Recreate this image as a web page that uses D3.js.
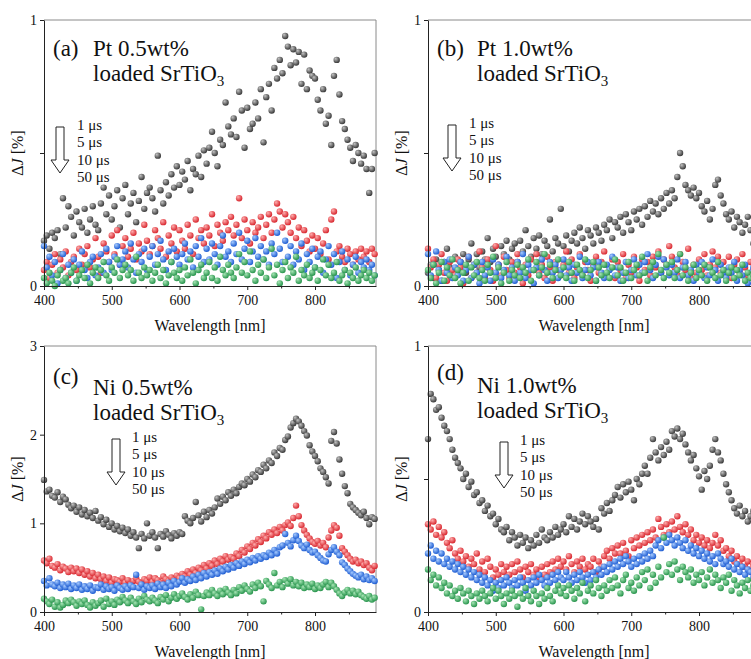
<!DOCTYPE html>
<html>
<head>
<meta charset="utf-8">
<script src="https://cdn.jsdelivr.net/npm/d3@7"></script>
<style>
  body { margin: 0; background: #fff; }
  svg, svg text { font-family: "Liberation Serif", "Times New Roman", "DejaVu Serif", serif; }
</style>
</head>
<body>
<div id="chart"></div>
<script>
// sampling grid [nm]
const wavelengths = [
  400,404,408,412,416,420,424,428,432,436,
  440,444,448,452,456,460,464,468,472,476,
  480,484,488,492,496,500,504,508,512,516,
  520,524,528,532,536,540,544,548,552,556,
  560,564,568,572,576,580,584,588,592,596,
  600,604,608,612,616,620,624,628,632,636,
  640,644,648,652,656,660,664,668,672,676,
  680,684,688,692,696,700,704,708,712,716,
  720,724,728,732,736,740,744,748,752,756,
  760,764,768,772,776,780,784,788,792,796,
  800,804,808,812,816,820,824,828,832,836,
  840,844,848,852,856,860,864,868,872,876,
  880,884,888];

const delays = ["1 μs", "5 μs", "10 μs", "50 μs"];

// (a) Pt 0.5wt%  ΔJ [%]
const ptLow1 = [
  0.17,0.19,0.14,0.20,0.18,0.21,0.12,0.33,0.22,0.30,
  0.26,0.19,0.28,0.24,0.22,0.29,0.20,0.25,0.30,0.23,
  0.21,0.31,0.37,0.27,0.34,0.25,0.30,0.36,0.22,0.33,
  0.38,0.27,0.31,0.35,0.24,0.32,0.41,0.29,0.35,0.37,
  0.33,0.28,0.49,0.36,0.31,0.39,0.34,0.42,0.37,0.45,
  0.38,0.43,0.40,0.47,0.36,0.44,0.42,0.49,0.41,0.51,
  0.46,0.52,0.58,0.50,0.45,0.55,0.53,0.69,0.60,0.57,
  0.63,0.56,0.73,0.66,0.52,0.67,0.59,0.61,0.69,0.63,
  0.74,0.54,0.71,0.76,0.66,0.82,0.78,0.85,0.80,0.94,
  0.90,0.83,0.89,0.84,0.88,0.76,0.87,0.74,0.81,0.79,
  0.78,0.70,0.66,0.74,0.61,0.64,0.53,0.79,0.85,0.72,
  0.62,0.59,0.55,0.52,0.47,0.53,0.50,0.46,0.49,0.44,
  0.35,0.44,0.50];
const ptLow5 = [
  0.06,0.09,0.03,0.08,0.12,0.05,0.10,0.07,0.13,0.04,
  0.09,0.11,0.06,0.14,0.08,0.12,0.15,0.07,0.10,0.18,
  0.11,0.05,0.16,0.13,0.09,0.19,0.12,0.21,0.08,0.15,
  0.18,0.11,0.14,0.20,0.10,0.16,0.13,0.23,0.17,0.12,
  0.15,0.21,0.18,0.14,0.24,0.11,0.19,0.16,0.22,0.13,
  0.21,0.17,0.14,0.23,0.19,0.12,0.25,0.18,0.21,0.16,
  0.22,0.19,0.27,0.15,0.23,0.20,0.17,0.24,0.21,0.26,
  0.19,0.23,0.33,0.18,0.25,0.21,0.16,0.24,0.20,0.22,
  0.26,0.18,0.23,0.27,0.20,0.25,0.31,0.28,0.22,0.27,
  0.24,0.20,0.26,0.18,0.22,0.15,0.21,0.17,0.13,0.19,
  0.14,0.18,0.12,0.16,0.21,0.10,0.25,0.28,0.13,0.15,
  0.11,0.09,0.14,0.12,0.08,0.13,0.10,0.14,0.11,0.13,
  0.09,0.14,0.12];
const ptLow10 = [
  0.15,0.07,0.11,0.04,0.09,0.01,0.06,0.12,0.03,0.08,
  0.05,0.10,0.02,0.08,0.13,0.06,0.03,0.09,0.11,0.04,
  0.07,0.12,0.05,0.14,0.09,0.06,0.11,0.15,0.08,0.10,
  0.13,0.07,0.16,0.10,0.05,0.12,0.09,0.14,0.06,0.11,
  0.15,0.08,0.12,0.17,0.10,0.06,0.13,0.09,0.14,0.11,
  0.08,0.12,0.16,0.10,0.13,0.07,0.15,0.11,0.18,0.09,
  0.14,0.10,0.16,0.12,0.08,0.15,0.19,0.11,0.13,0.09,
  0.16,0.12,0.20,0.10,0.14,0.17,0.09,0.13,0.18,0.11,
  0.15,0.10,0.13,0.08,0.16,0.12,0.20,0.14,0.09,0.17,
  0.11,0.15,0.08,0.13,0.10,0.16,0.06,0.12,0.09,0.14,
  0.07,0.11,0.13,0.05,0.10,0.15,0.08,0.12,0.03,0.09,
  0.13,0.06,0.10,0.04,0.08,0.11,0.05,0.09,0.07,0.10,
  0.06,0.08,0.04];
const ptLow50 = [
  0.03,0.01,0.05,0.02,0.00,0.04,0.06,0.02,0.03,0.01,
  0.05,0.07,0.02,0.04,0.06,0.03,0.08,0.01,0.05,0.07,
  0.03,0.06,0.09,0.04,0.02,0.07,0.05,0.10,0.03,0.06,
  0.08,0.04,0.06,0.02,0.11,0.05,0.03,0.07,0.04,0.06,
  0.02,0.05,0.08,0.03,0.06,0.01,0.04,0.09,0.05,0.03,
  0.06,0.02,0.07,0.04,0.10,0.05,0.01,0.06,0.08,0.03,
  0.05,0.09,0.03,0.07,0.02,0.11,0.06,0.04,0.08,0.05,
  0.03,0.07,0.12,0.05,0.09,0.04,0.13,0.06,0.02,0.08,
  0.05,0.10,0.03,0.07,0.14,0.04,0.08,0.01,0.06,0.09,
  0.03,0.07,0.05,0.11,0.02,0.06,0.04,0.08,0.03,0.05,
  0.07,0.02,0.06,0.10,0.04,0.08,0.03,0.05,0.09,0.02,
  0.04,0.06,0.01,0.05,0.03,0.07,0.02,0.04,0.06,0.03,
  0.05,0.02,0.04];

// (b) Pt 1.0wt%
const ptHigh1 = [
  0.05,0.08,0.03,0.10,0.06,0.02,0.09,0.14,0.07,0.04,
  0.11,0.06,0.09,0.12,0.05,0.10,0.16,0.08,0.12,0.07,
  0.13,0.10,0.18,0.09,0.14,0.11,0.08,0.15,0.12,0.17,
  0.10,0.14,0.16,0.09,0.17,0.13,0.21,0.15,0.11,0.18,
  0.14,0.19,0.12,0.17,0.15,0.25,0.13,0.18,0.16,0.29,
  0.15,0.19,0.13,0.17,0.20,0.16,0.22,0.18,0.14,0.21,
  0.19,0.16,0.22,0.20,0.17,0.23,0.21,0.25,0.18,0.24,
  0.22,0.26,0.20,0.27,0.24,0.21,0.28,0.25,0.29,0.23,
  0.30,0.26,0.32,0.28,0.31,0.27,0.33,0.29,0.35,0.31,
  0.36,0.33,0.41,0.50,0.45,0.38,0.36,0.34,0.37,0.33,
  0.35,0.30,0.28,0.32,0.25,0.29,0.38,0.40,0.34,0.31,
  0.27,0.25,0.28,0.22,0.26,0.24,0.20,0.23,0.26,0.21,
  0.16,0.22,0.18];
const ptHigh5 = [
  0.14,0.07,0.10,0.03,0.08,0.12,0.05,0.02,0.09,0.06,
  0.04,0.10,0.07,0.01,0.06,0.11,0.03,0.08,0.05,0.13,
  0.07,0.03,0.10,0.06,0.02,0.15,0.08,0.04,0.11,0.06,
  0.03,0.09,0.05,0.12,0.07,0.01,0.08,0.04,0.10,0.06,
  0.12,0.05,0.08,0.03,0.11,0.07,0.02,0.09,0.06,0.04,
  0.08,0.13,0.05,0.10,0.03,0.07,0.12,0.04,0.09,0.06,
  0.02,0.08,0.11,0.05,0.09,0.13,0.04,0.07,0.10,0.03,
  0.09,0.06,0.12,0.03,0.08,0.05,0.11,0.07,0.02,0.10,
  0.06,0.09,0.04,0.11,0.07,0.13,0.05,0.10,0.08,0.15,
  0.11,0.07,0.04,0.12,0.09,0.06,0.14,0.03,0.08,0.05,
  0.10,0.06,0.12,0.04,0.08,0.13,0.07,0.11,0.05,0.09,
  0.06,0.11,0.03,0.08,0.10,0.05,0.12,0.07,0.04,0.09,
  0.06,0.10,0.05];
const ptHigh10 = [
  0.12,0.04,0.08,0.13,0.06,0.02,0.09,0.05,0.10,0.03,
  0.07,0.04,0.09,0.02,0.06,0.11,0.03,0.08,0.05,0.01,
  0.09,0.04,0.07,0.02,0.10,0.05,0.08,0.03,0.06,0.11,
  0.04,0.07,0.02,0.09,0.05,0.12,0.03,0.08,0.06,0.01,
  0.07,0.04,0.10,0.06,0.02,0.09,0.05,0.08,0.03,0.06,
  0.10,0.04,0.07,0.02,0.08,0.05,0.11,0.03,0.06,0.09,
  0.04,0.07,0.02,0.09,0.05,0.03,0.08,0.06,0.11,0.04,
  0.07,0.02,0.05,0.09,0.03,0.06,0.10,0.04,0.08,0.05,
  0.09,0.12,0.06,0.03,0.08,0.11,0.05,0.10,0.07,0.04,
  0.08,0.05,0.10,0.03,0.07,0.09,0.04,0.06,0.02,0.08,
  0.05,0.09,0.03,0.07,0.04,0.10,0.06,0.02,0.08,0.05,
  0.03,0.07,0.05,0.09,0.02,0.06,0.04,0.08,0.01,0.05,
  0.07,0.03,0.06];
const ptHigh50 = [
  0.06,0.03,0.08,0.01,0.05,0.09,0.02,0.07,0.04,0.10,
  0.03,0.06,0.01,0.05,0.08,0.02,0.07,0.04,0.09,0.03,
  0.06,0.02,0.08,0.05,0.11,0.03,0.07,0.01,0.05,0.09,
  0.02,0.06,0.04,0.08,0.03,0.07,0.05,0.10,0.02,0.06,
  0.09,0.04,0.07,0.12,0.05,0.08,0.03,0.06,0.10,0.04,
  0.07,0.03,0.09,0.05,0.02,0.08,0.06,0.04,0.10,0.03,
  0.06,0.09,0.02,0.07,0.04,0.08,0.05,0.03,0.07,0.10,
  0.04,0.07,0.02,0.05,0.09,0.03,0.06,0.08,0.04,0.11,
  0.05,0.02,0.07,0.09,0.04,0.12,0.06,0.03,0.08,0.05,
  0.09,0.03,0.06,0.12,0.04,0.07,0.02,0.05,0.08,0.03,
  0.06,0.04,0.08,0.02,0.07,0.05,0.03,0.09,0.04,0.06,
  0.02,0.05,0.07,0.03,0.06,0.04,0.08,0.02,0.05,0.03,
  0.04,0.06,0.02];

// (c) Ni 0.5wt%
const niLow1 = [
  1.49,1.36,1.38,1.31,1.29,1.35,1.24,1.30,1.27,1.21,
  1.17,1.20,1.13,1.18,1.10,1.15,1.08,1.12,1.06,1.14,
  1.03,1.07,0.99,1.04,0.96,1.00,0.93,0.97,0.91,0.95,
  0.89,0.93,0.86,0.90,0.84,0.72,0.88,0.83,1.00,0.86,
  0.90,0.84,0.72,0.88,0.85,0.91,0.87,0.83,0.89,0.86,
  0.90,0.88,1.08,1.03,1.00,1.06,1.24,1.09,1.02,1.13,
  1.07,1.15,1.11,1.18,1.28,1.22,1.30,1.26,1.35,1.31,
  1.38,1.34,1.41,1.45,1.43,1.50,1.47,1.55,1.52,1.60,
  1.58,1.66,1.62,1.71,1.68,1.80,1.76,1.85,1.83,1.94,
  1.98,2.08,2.13,2.18,2.15,2.10,2.04,1.99,1.88,1.81,
  1.76,1.70,1.62,1.58,1.52,1.45,1.93,2.03,1.90,1.72,
  1.56,1.42,1.34,1.22,1.18,1.15,1.12,1.09,1.13,1.06,
  0.99,1.07,1.05];
const niLow5 = [
  0.58,0.55,0.60,0.52,0.50,0.54,0.47,0.51,0.49,0.45,
  0.50,0.46,0.49,0.44,0.48,0.42,0.46,0.40,0.44,0.38,
  0.42,0.37,0.40,0.35,0.39,0.33,0.37,0.36,0.34,0.38,
  0.33,0.36,0.31,0.35,0.38,0.34,0.32,0.37,0.35,0.39,
  0.34,0.38,0.36,0.33,0.40,0.37,0.35,0.39,0.36,0.41,
  0.38,0.43,0.40,0.46,0.42,0.48,0.44,0.50,0.47,0.53,
  0.49,0.55,0.52,0.58,0.54,0.60,0.57,0.63,0.59,0.62,
  0.60,0.66,0.63,0.70,0.67,0.74,0.71,0.78,0.75,0.82,
  0.79,0.86,0.83,0.90,0.87,0.93,0.89,0.96,0.92,0.98,
  1.01,0.97,1.06,1.20,1.08,0.98,0.92,0.87,0.83,0.79,
  0.77,0.80,0.75,0.78,0.73,0.84,0.92,0.98,0.95,0.86,
  0.72,0.68,0.64,0.60,0.57,0.59,0.55,0.57,0.53,0.55,
  0.50,0.47,0.52];
const niLow10 = [
  0.35,0.30,0.38,0.31,0.29,0.33,0.27,0.31,0.28,0.32,
  0.26,0.30,0.27,0.31,0.25,0.29,0.26,0.30,0.24,0.28,
  0.27,0.31,0.25,0.29,0.26,0.28,0.24,0.30,0.27,0.25,
  0.29,0.26,0.30,0.28,0.42,0.27,0.31,0.25,0.29,0.27,
  0.30,0.26,0.32,0.28,0.31,0.27,0.33,0.29,0.35,0.31,
  0.34,0.38,0.33,0.37,0.35,0.40,0.36,0.42,0.38,0.44,
  0.40,0.45,0.42,0.47,0.43,0.49,0.46,0.51,0.48,0.53,
  0.50,0.55,0.52,0.57,0.54,0.59,0.56,0.61,0.58,0.63,
  0.60,0.64,0.62,0.67,0.64,0.70,0.66,0.73,0.75,0.88,
  0.78,0.74,0.81,0.86,0.80,0.75,0.72,0.76,0.70,0.67,
  0.68,0.64,0.61,0.58,0.57,0.65,0.70,0.73,0.68,0.64,
  0.56,0.53,0.49,0.46,0.43,0.41,0.39,0.42,0.37,0.40,
  0.36,0.38,0.35];
const niLow50 = [
  0.15,0.12,0.09,0.14,0.06,0.11,0.05,0.08,0.13,0.10,
  0.14,0.11,0.07,0.12,0.09,0.13,0.08,0.05,0.11,0.07,
  0.10,0.13,0.06,0.15,0.09,0.12,0.08,0.14,0.11,0.17,
  0.13,0.10,0.16,0.12,0.09,0.15,0.11,0.18,0.14,0.12,
  0.16,0.13,0.10,0.17,0.14,0.19,0.12,0.16,0.20,0.15,
  0.18,0.21,0.17,0.14,0.20,0.16,0.23,0.19,0.03,0.18,
  0.22,0.19,0.25,0.21,0.18,0.24,0.20,0.26,0.22,0.19,
  0.25,0.21,0.28,0.24,0.30,0.26,0.23,0.31,0.27,0.33,
  0.29,0.12,0.35,0.31,0.27,0.44,0.30,0.34,0.28,0.36,
  0.32,0.37,0.30,0.34,0.29,0.33,0.27,0.31,0.28,0.32,
  0.26,0.30,0.27,0.31,0.34,0.28,0.33,0.29,0.25,0.21,
  0.18,0.22,0.25,0.21,0.24,0.20,0.23,0.19,0.17,0.15,
  0.18,0.14,0.16];

// (d) Ni 1.0wt%
const niHigh1 = [
  0.65,0.82,0.80,0.76,0.77,0.73,0.70,0.68,0.65,0.61,
  0.58,0.56,0.54,0.50,0.52,0.47,0.49,0.44,0.45,0.41,
  0.42,0.38,0.40,0.36,0.37,0.33,0.35,0.31,0.30,0.32,
  0.27,0.30,0.28,0.25,0.29,0.26,0.28,0.24,0.27,0.25,
  0.29,0.26,0.31,0.28,0.27,0.30,0.28,0.32,0.29,0.31,
  0.33,0.30,0.36,0.32,0.35,0.31,0.34,0.37,0.33,0.36,
  0.34,0.32,0.35,0.31,0.39,0.37,0.41,0.38,0.42,0.44,
  0.47,0.43,0.48,0.45,0.49,0.46,0.42,0.50,0.48,0.52,
  0.55,0.52,0.58,0.65,0.60,0.57,0.62,0.59,0.64,0.61,
  0.68,0.66,0.69,0.65,0.67,0.63,0.60,0.57,0.59,0.54,
  0.51,0.46,0.53,0.50,0.55,0.61,0.65,0.60,0.57,0.52,
  0.48,0.45,0.42,0.39,0.37,0.40,0.36,0.38,0.34,0.36,
  0.38,0.35,0.37];
const niHigh5 = [
  0.33,0.31,0.34,0.29,0.32,0.28,0.30,0.26,0.24,0.27,
  0.22,0.20,0.23,0.19,0.21,0.17,0.20,0.18,0.22,0.16,
  0.19,0.15,0.20,0.17,0.13,0.16,0.14,0.18,0.15,0.17,
  0.14,0.18,0.15,0.19,0.16,0.13,0.17,0.15,0.18,0.14,
  0.16,0.13,0.17,0.14,0.18,0.15,0.19,0.16,0.20,0.17,
  0.19,0.16,0.21,0.18,0.15,0.19,0.17,0.20,0.16,0.18,
  0.17,0.20,0.15,0.19,0.17,0.21,0.23,0.20,0.24,0.22,
  0.25,0.22,0.26,0.23,0.21,0.27,0.24,0.28,0.25,0.29,
  0.26,0.30,0.27,0.31,0.28,0.35,0.32,0.29,0.33,0.30,
  0.34,0.31,0.36,0.32,0.30,0.33,0.29,0.31,0.27,0.29,
  0.26,0.28,0.25,0.27,0.24,0.26,0.29,0.25,0.27,0.23,
  0.24,0.21,0.23,0.19,0.21,0.18,0.20,0.17,0.19,0.16,
  0.18,0.15,0.17];
const niHigh10 = [
  0.22,0.25,0.20,0.23,0.19,0.22,0.18,0.20,0.17,0.19,
  0.16,0.18,0.15,0.17,0.14,0.16,0.13,0.15,0.12,0.14,
  0.11,0.13,0.10,0.12,0.08,0.11,0.09,0.12,0.10,0.13,
  0.11,0.09,0.12,0.10,0.13,0.11,0.08,0.12,0.10,0.13,
  0.11,0.14,0.12,0.10,0.13,0.11,0.14,0.12,0.15,0.13,
  0.12,0.15,0.13,0.11,0.14,0.12,0.15,0.13,0.11,0.14,
  0.12,0.15,0.13,0.16,0.14,0.17,0.15,0.18,0.16,0.19,
  0.17,0.20,0.18,0.21,0.19,0.17,0.20,0.18,0.21,0.19,
  0.22,0.20,0.23,0.21,0.25,0.27,0.24,0.28,0.26,0.29,
  0.27,0.25,0.28,0.26,0.24,0.27,0.23,0.25,0.22,0.24,
  0.21,0.23,0.20,0.22,0.19,0.21,0.18,0.22,0.20,0.18,
  0.19,0.17,0.20,0.16,0.18,0.15,0.17,0.14,0.16,0.15,
  0.13,0.16,0.14];
const niHigh50 = [
  0.16,0.12,0.14,0.10,0.13,0.09,0.11,0.07,0.10,0.06,
  0.08,0.05,0.09,0.07,0.04,0.08,0.06,0.03,0.07,0.05,
  0.08,0.06,0.04,0.07,0.09,0.05,0.08,0.06,0.03,0.07,
  0.05,0.08,0.06,0.02,0.07,0.05,0.09,0.06,0.04,0.08,
  0.06,0.03,0.07,0.05,0.09,0.06,0.04,0.08,0.10,0.07,
  0.09,0.06,0.10,0.08,0.05,0.09,0.07,0.11,0.04,0.08,
  0.10,0.07,0.12,0.09,0.06,0.10,0.08,0.12,0.09,0.13,
  0.10,0.07,0.12,0.14,0.09,0.11,0.08,0.13,0.10,0.15,
  0.12,0.16,0.09,0.14,0.11,0.17,0.13,0.28,0.15,0.18,
  0.14,0.19,0.16,0.12,0.17,0.15,0.13,0.16,0.11,0.14,
  0.12,0.15,0.10,0.13,0.16,0.11,0.14,0.12,0.09,0.13,
  0.11,0.14,0.08,0.12,0.10,0.07,0.11,0.09,0.12,0.08,
  0.10,0.07,0.09];

const xTicks = [400, 500, 600, 700, 800];
const xMinorTicks = [450, 550, 650, 750, 850];

// panel layout
const W = 751, H = 659, pw = 332, ph = 266;
const FONT = "'Liberation Serif', 'Times New Roman', 'DejaVu Serif', serif";
const panels = [
  {tag: "(a)", metal: "Pt 0.5wt%", data: [ptLow1, ptLow5, ptLow10, ptLow50],
   x0: 44, y0: 20, yMax: 1, yTicks: [0, 1], yMinor: [0.5],
   tagY: 56, lineY: 56, line2Y: 81, legX: 60, legY: 125, legTextX: 77},
  {tag: "(b)", metal: "Pt 1.0wt%", data: [ptHigh1, ptHigh5, ptHigh10, ptHigh50],
   x0: 428, y0: 20, yMax: 1, yTicks: [0, 1], yMinor: [0.5],
   tagY: 56, lineY: 56, line2Y: 81, legX: 452, legY: 123, legTextX: 469},
  {tag: "(c)", metal: "Ni 0.5wt%", data: [niLow1, niLow5, niLow10, niLow50],
   x0: 44, y0: 346, yMax: 3, yTicks: [0, 1, 2, 3], yMinor: [],
   tagY: 384, lineY: 395, line2Y: 420, legX: 116, legY: 437, legTextX: 132},
  {tag: "(d)", metal: "Ni 1.0wt%", data: [niHigh1, niHigh5, niHigh10, niHigh50],
   x0: 428, y0: 346, yMax: 1, yTicks: [0, 1], yMinor: [0.5],
   tagY: 380, lineY: 393, line2Y: 418, legX: 504, legY: 440, legTextX: 520}
];

const sphere = [
  ["#c4c4c4", "#383838"],
  ["#ffb0b0", "#d8262e"],
  ["#a8ccff", "#1d5cd2"],
  ["#a8e6b6", "#27944c"]
];

const svg = d3.select("#chart").append("svg")
    .attr("width", W)
    .attr("height", H)
    .attr("font-family", FONT);

svg.append("rect").attr("width", W).attr("height", H).attr("fill", "#fff");

const defs = svg.append("defs");
sphere.forEach((c, i) => {
  const g = defs.append("radialGradient")
      .attr("id", "ball" + i)
      .attr("cx", "40%").attr("cy", "38%").attr("r", "62%")
      .attr("fx", "32%").attr("fy", "30%");
  g.append("stop").attr("offset", "0%").attr("stop-color", c[0]);
  g.append("stop").attr("offset", "100%").attr("stop-color", c[1]);
});

panels.forEach(p => {
  const x = d3.scaleLinear().domain([400, 890]).range([p.x0, p.x0 + pw]);
  const y = d3.scaleLinear().domain([0, p.yMax]).range([p.y0 + ph, p.y0]);
  const g = svg.append("g");

  // frame (top & right)
  g.append("path")
      .attr("d", `M${p.x0},${p.y0}H${p.x0 + pw}V${p.y0 + ph}`)
      .attr("fill", "none")
      .attr("stroke", "#8a8a8a")
      .attr("stroke-width", 1);

  // dots
  p.data.forEach((vals, si) => {
    g.append("g")
      .selectAll("circle")
      .data(vals)
      .join("circle")
        .attr("cx", (d, i) => x(wavelengths[i]))
        .attr("cy", d => y(d))
        .attr("r", 3.2)
        .attr("fill", `url(#ball${si})`);
  });

  // axes
  g.append("g")
      .attr("transform", `translate(0,${p.y0 + ph})`)
      .call(d3.axisBottom(x).tickValues(xTicks).tickFormat(d3.format("d")).tickSize(4).tickPadding(5).tickSizeOuter(0));
  g.append("g")
      .attr("transform", `translate(0,${p.y0 + ph})`)
      .call(d3.axisBottom(x).tickValues(xMinorTicks).tickSize(2.5).tickFormat("").tickSizeOuter(0))
      .select(".domain").remove();
  g.append("g")
      .attr("transform", `translate(${p.x0},0)`)
      .call(d3.axisLeft(y).tickValues(p.yTicks).tickFormat(d3.format("d")).tickSize(4).tickPadding(3).tickSizeOuter(0));
  if (p.yMinor.length) {
    g.append("g")
        .attr("transform", `translate(${p.x0},0)`)
        .call(d3.axisLeft(y).tickValues(p.yMinor).tickSize(4).tickFormat("").tickSizeOuter(0))
        .select(".domain").remove();
  }
  g.selectAll("g").attr("font-family", FONT);
  g.selectAll(".tick text")
      .style("font-family", FONT)
      .attr("font-size", 14)
      .attr("fill", "#111");
  g.selectAll(".domain, .tick line").attr("stroke", "#222");

  // axis titles
  g.append("text")
      .attr("x", p.x0 + pw / 2)
      .attr("y", p.y0 + ph + 45)
      .attr("text-anchor", "middle")
      .attr("font-size", 16)
      .attr("fill", "#111")
      .text("Wavelength [nm]");
  const yl = g.append("text")
      .attr("transform", `translate(${p.x0 - 21},${p.y0 + ph / 2}) rotate(-90)`)
      .attr("text-anchor", "middle")
      .attr("font-size", 16)
      .attr("fill", "#111");
  yl.append("tspan").text("Δ");
  yl.append("tspan").attr("font-style", "italic").text("J");
  yl.append("tspan").text(" [%]");

  // panel title
  g.append("text")
      .attr("x", p.x0 + 9)
      .attr("y", p.tagY)
      .attr("font-size", 23)
      .attr("fill", "#111")
      .text(p.tag);
  g.append("text")
      .attr("x", p.x0 + 49)
      .attr("y", p.lineY)
      .attr("font-size", 23)
      .attr("fill", "#111")
      .text(p.metal);
  const l2 = g.append("text")
      .attr("x", p.x0 + 49)
      .attr("y", p.line2Y)
      .attr("font-size", 23)
      .attr("fill", "#111");
  l2.append("tspan").text("loaded SrTiO");
  l2.append("tspan").attr("font-size", 15).attr("dy", 5).text("3");

  // delay legend with down arrow
  const ax = p.legX, ay = p.legY + 2;
  g.append("path")
      .attr("d", `M${ax - 4},${ay}H${ax + 4}V${ay + 33}H${ax + 9}L${ax},${ay + 46}L${ax - 9},${ay + 33}H${ax - 4}Z`)
      .attr("fill", "#fff")
      .attr("stroke", "#222")
      .attr("stroke-width", 1);
  g.append("g")
    .selectAll("text")
    .data(delays)
    .join("text")
      .attr("x", p.legTextX)
      .attr("y", (d, i) => p.legY + 5 + i * 17.3)
      .attr("font-size", 15)
      .attr("fill", "#111")
      .text(d => d);
});
</script>
</body>
</html>
